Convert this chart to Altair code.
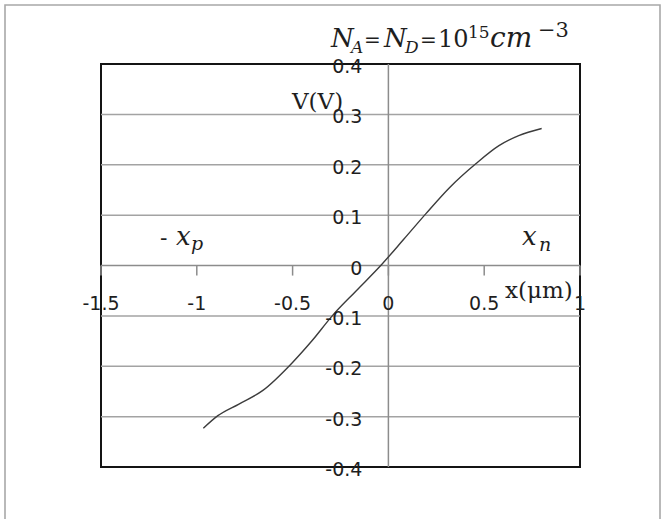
import altair as alt
import pandas as pd

# Electrostatic potential across the p-n junction (N_A = N_D = 1e15 cm^-3)
x_um = [-0.966, -0.89, -0.78, -0.655, -0.504, -0.40, -0.291, -0.17, -0.04,
        0.08, 0.196, 0.32, 0.456, 0.577, 0.68, 0.80]
v_volt = [-0.323, -0.298, -0.275, -0.248, -0.194, -0.15, -0.099, -0.051, 0.0,
          0.052, 0.103, 0.155, 0.202, 0.238, 0.258, 0.272]

x_ticks = [-1.5, -1.0, -0.5, 0.0, 0.5, 1.0]
x_tick_labels = ["-1.5", "-1", "-0.5", "0", "0.5", "1"]
y_ticks = [0.4, 0.3, 0.2, 0.1, 0.0, -0.1, -0.2, -0.3, -0.4]
y_tick_labels = ["0.4", "0.3", "0.2", "0.1", "0", "-0.1", "-0.2", "-0.3", "-0.4"]
grid_values = [0.3, 0.2, 0.1, -0.1, -0.2, -0.3]

# plot area geometry (pixels)
W, H = 479, 403
LEFT, TOP = 101, 64

SANS = "DejaVu Sans"
SERIF = "DejaVu Serif"
INK = "#1e1e1e"
GRID = "#a3a3a3"

xs = alt.Scale(domain=[-1.5, 1.0], nice=False, zero=False)
ys = alt.Scale(domain=[-0.4, 0.4], nice=False, zero=False)

curve_df = pd.DataFrame({"x": x_um, "v": v_volt})
grid_df = pd.DataFrame({"v": grid_values})
xtick_df = pd.DataFrame({"x": x_ticks, "t": x_tick_labels, "y0": 0.0, "y1": -0.02})
ytick_df = pd.DataFrame({"v": y_ticks, "t": y_tick_labels, "x0": 0.0})
one = pd.DataFrame({"x0": [0.0], "v0": [0.0]})

X = lambda f: alt.X(f, type="quantitative", scale=xs, axis=None)
Y = lambda f: alt.Y(f, type="quantitative", scale=ys, axis=None)

# outer chart frame
frame = alt.Chart(one).mark_rect(fillOpacity=0, stroke="#a8a8a8", strokeWidth=1.6).encode(
    x=alt.value(5 - LEFT), x2=alt.value(660 - LEFT),
    y=alt.value(5 - TOP), y2=alt.value(532 - TOP),
)

grid = alt.Chart(grid_df).mark_rule(color=GRID, strokeWidth=1.5).encode(y=Y("v"))

zero_h = alt.Chart(one).mark_rule(color="#8c8c8c", strokeWidth=1.5).encode(y=Y("v0"))
zero_v = alt.Chart(one).mark_rule(color="#8c8c8c", strokeWidth=1.5).encode(x=X("x0"))

ticks = alt.Chart(xtick_df).mark_rule(color="#8c8c8c", strokeWidth=1.5).encode(
    x=X("x"), y=Y("y0"), y2="y1"
)

curve = alt.Chart(curve_df).mark_line(
    interpolate="monotone", color="#3c3c3c", strokeWidth=1.4
).encode(x=X("x"), y=Y("v"))

x_labels = alt.Chart(xtick_df).mark_text(
    align="center", baseline="middle", dy=38, font=SANS, fontSize=19, color=INK
).encode(x=X("x"), y=Y("y0"), text="t:N")

y_labels = alt.Chart(ytick_df).mark_text(
    align="right", baseline="middle", dx=-26, dy=3, font=SANS, fontSize=19, color=INK
).encode(x=X("x0"), y=Y("v"), text="t:N")


def note(text, px, py, size, italic=False, font=SERIF):
    """Text placed by its left edge and baseline, in page pixels."""
    return alt.Chart(one).mark_text(
        text=text, align="left", baseline="alphabetic", font=font,
        fontSize=size, fontStyle="italic" if italic else "normal", color=INK,
    ).encode(x=alt.value(px - LEFT), y=alt.value(py - TOP))


notes = [
    # N_A = N_D = 10^15 cm^-3
    note("N", 331, 47, 26, True),
    note("A", 351, 53, 17, True),
    note("=", 364, 47, 20),
    note("N", 384, 47, 26, True),
    note("D", 405, 53, 17, True),
    note("=", 420, 47, 20),
    note("10", 438, 47, 24),
    note("15", 468, 38, 17),
    note("cm", 490, 47, 28, True),
    note("\u22123", 538, 37, 21),
    # axis names
    note("V(V)", 292, 109, 23),
    note("x(\u03bcm)", 505, 298, 23),
    # depletion edges
    note("-", 160, 245, 22),
    note("x", 176, 245, 26, True),
    note("p", 191, 250, 19, True),
    note("x", 522, 245, 26, True),
    note("n", 539, 251, 19, True),
]

chart = alt.layer(
    frame, grid, zero_h, zero_v, ticks, curve, x_labels, y_labels, *notes
).properties(
    width=W, height=H,
    padding={"left": LEFT, "top": TOP, "right": 670 - LEFT - W, "bottom": 519 - TOP - H},
    autosize=alt.AutoSizeParams(type="none"),
    background="white",
).configure_view(stroke="#141414", strokeWidth=2)

chart.save("out.html", embed_options={"renderer": "svg", "actions": False})
